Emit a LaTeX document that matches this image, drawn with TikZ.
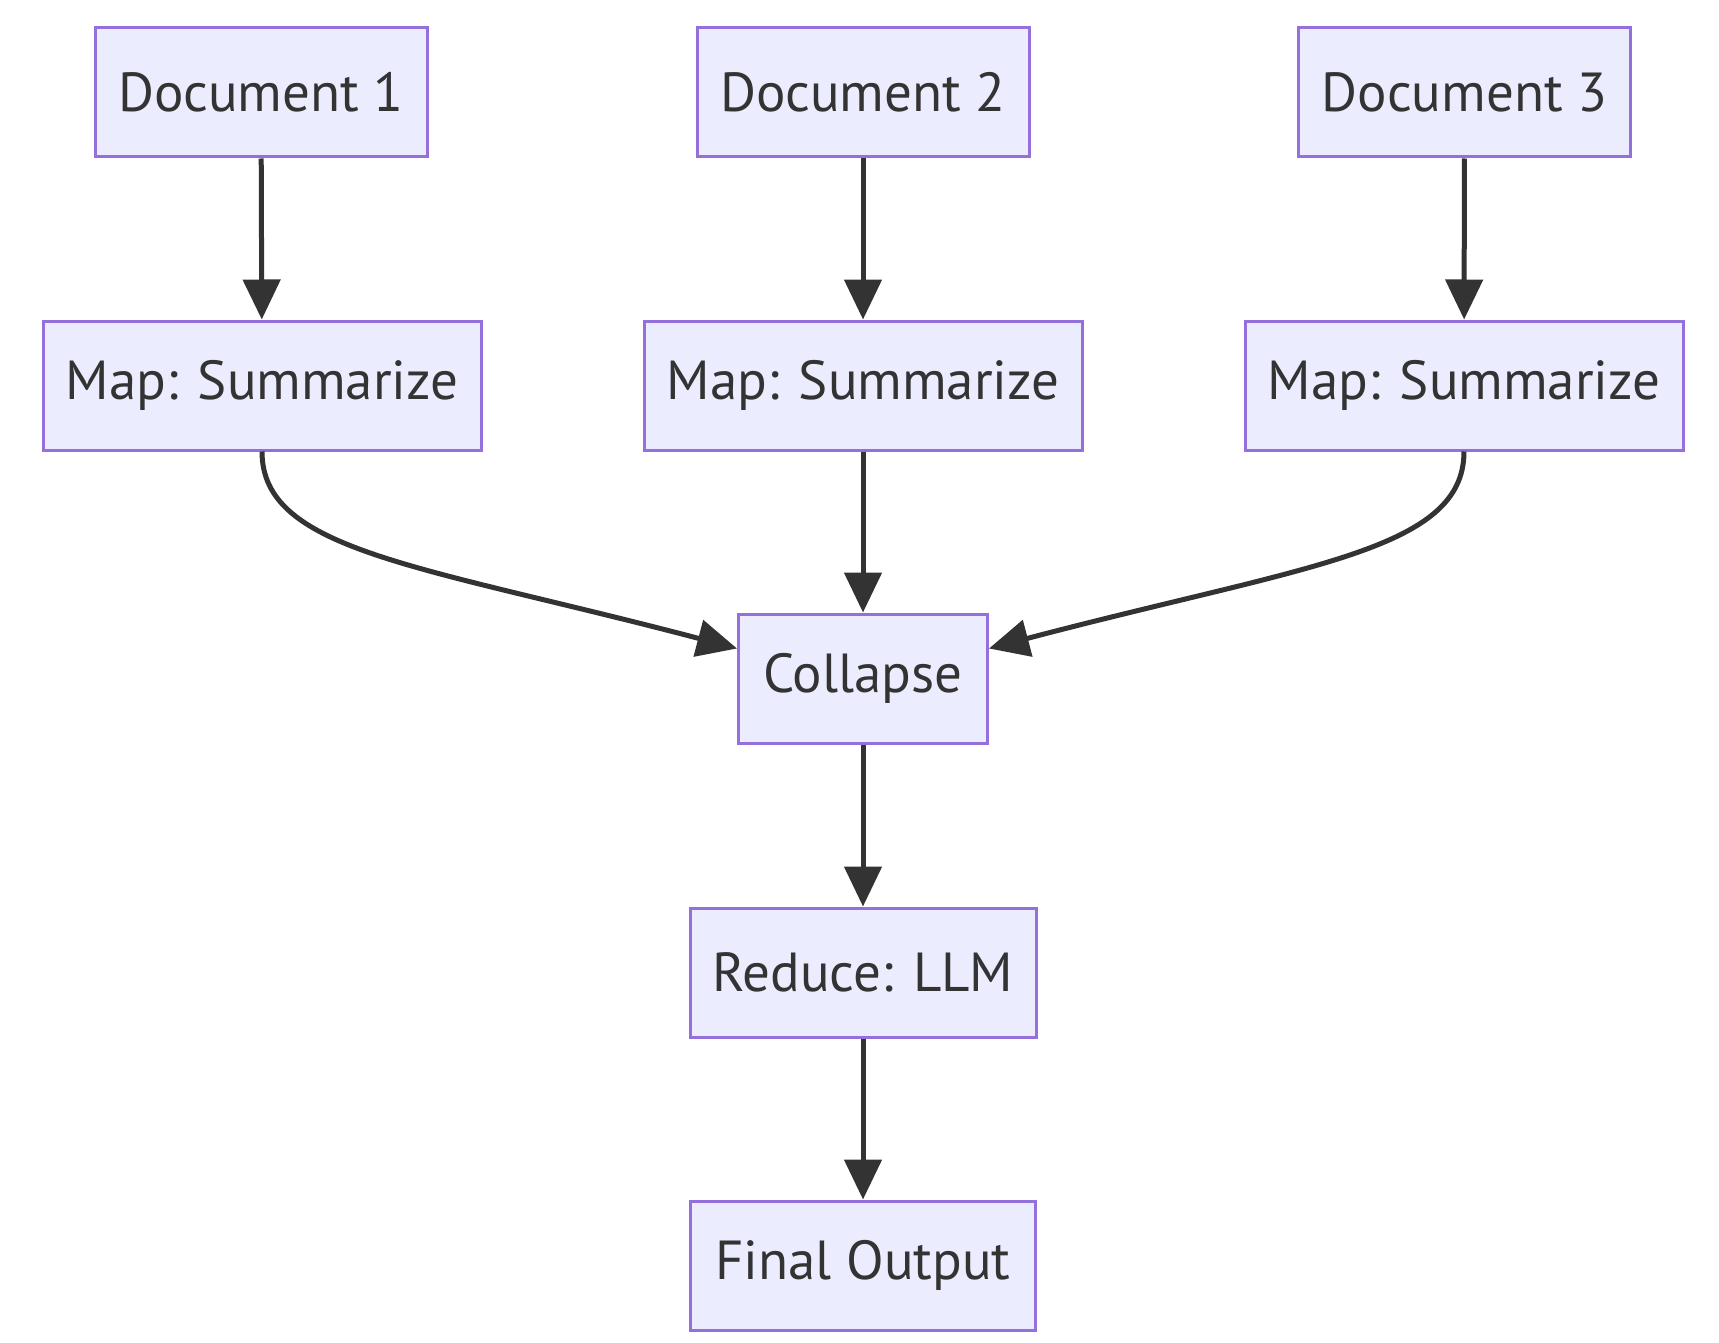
\documentclass[tikz,border=0pt]{standalone}
\usepackage{fontspec}
\setmainfont{PT Sans}
\definecolor{mmfill}{HTML}{ECECFF}
\definecolor{mmline}{HTML}{9370DB}
\definecolor{mmedge}{HTML}{333333}
\usetikzlibrary{arrows.meta,positioning,calc}

\begin{document}
\begin{tikzpicture}[x=1pt,y=1pt,
  stage/.style={draw=mmline,fill=mmfill,line width=3pt,minimum height=129pt,
    inner sep=0pt,text=mmedge,font=\fontsize{55}{66}\selectfont},
  flow/.style={draw=mmedge,line width=5pt,-{Triangle[length=40pt,width=37pt]}}
]
  \useasboundingbox (0,0) rectangle (1719,-1343);

  % documents
  \node[stage,minimum width=332pt] (d1) at (261,-92.5) {Document 1};
  \node[stage,minimum width=332pt] (d2) at (863,-92.5) {Document 2};
  \node[stage,minimum width=332pt] (d3) at (1464.5,-92.5) {Document 3};

  % map step
  \node[stage,minimum width=438pt] (m1) at (262,-385.5) {Map: Summarize};
  \node[stage,minimum width=438pt] (m2) at (863,-385.5) {Map: Summarize};
  \node[stage,minimum width=438pt] (m3) at (1464,-385.5) {Map: Summarize};

  % collapse, reduce, output
  \node[stage,minimum width=249pt] (col) at (863,-678.5) {Collapse};
  \node[stage,minimum width=346pt] (red) at (863,-972.5) {Reduce: LLM};
  \node[stage,minimum width=345pt] (out) at (863,-1265.5) {Final Output};

  \coordinate (k1) at (420,-565);
  \coordinate (k3) at (1306,-565);

  \draw[flow] (d1) -- (m1);
  \draw[flow] (d2) -- (m2);
  \draw[flow] (d3) -- (m3);
  \draw[flow] (m1.south) .. controls +(0,-100) and (k1) .. ($(col.west)+(0,30)$);
  \draw[flow] (m2) -- (col);
  \draw[flow] (m3.south) .. controls +(0,-100) and (k3) .. ($(col.east)+(0,30)$);
  \draw[flow] (col) -- (red);
  \draw[flow] (red) -- (out);
\end{tikzpicture}
\end{document}
